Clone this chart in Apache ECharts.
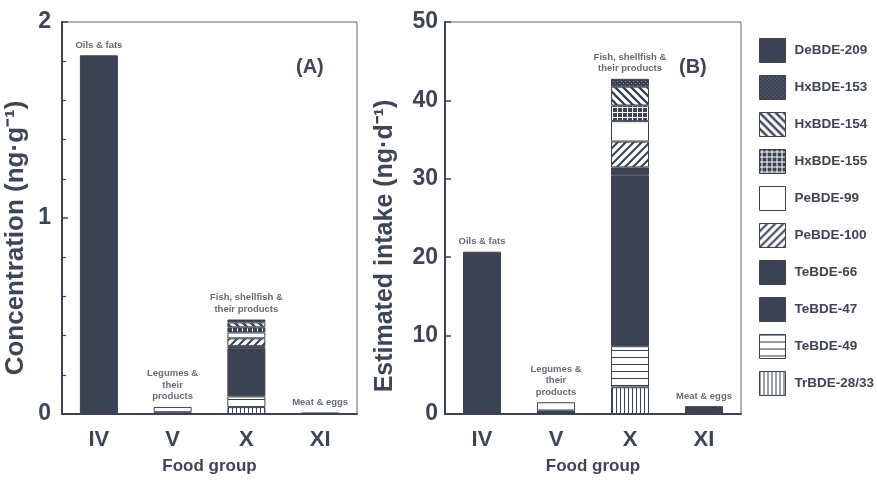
<!DOCTYPE html>
<html><head><meta charset="utf-8">
<script src="https://cdn.jsdelivr.net/npm/echarts@6/dist/echarts.min.js"></script>
<style>html,body{margin:0;padding:0;background:#fff}#c{width:877px;height:480px}</style>
</head><body><div id="c"></div>
<script>
// ---- data ----
const categories = ['IV', 'V', 'X', 'XI'];
const groupNames = ['Oils & fats', 'Legumes &\ntheir\nproducts', 'Fish, shellfish &\ntheir products', 'Meat & eggs'];
const congeners = ['DeBDE-209', 'HxBDE-153', 'HxBDE-154', 'HxBDE-155', 'PeBDE-99', 'PeBDE-100', 'TeBDE-66', 'TeBDE-47', 'TeBDE-49', 'TrBDE-28/33'];
// Panel A: concentration (ng/g), values in congener order
const concIV = [1.83, 0, 0, 0, 0, 0, 0, 0, 0, 0];
const concV  = [0, 0, 0, 0, 0.027, 0, 0, 0.009, 0, 0];
const concX  = [0, 0.015, 0.025, 0.026, 0.03, 0.04, 0.01, 0.246, 0.055, 0.035];
const concXI = [0, 0, 0, 0, 0, 0, 0, 0.008, 0, 0];
// Panel B: estimated intake (ng/d), values in congener order
const intakeIV = [20.7, 0, 0, 0, 0, 0, 0, 0, 0, 0];
const intakeV  = [0, 0, 0, 0, 1.05, 0, 0, 0.45, 0, 0];
const intakeX  = [0, 1.0, 2.4, 2.0, 2.6, 3.3, 1.0, 21.8, 5.25, 3.4];
const intakeXI = [0, 0, 0, 0, 0, 0, 0, 1.0, 0, 0];
const yTicksA = [0, 1, 2];
const yTicksB = [0, 10, 20, 30, 40, 50];

// ---- styles ----
const DARK = '#3b4251';
const TXT = '#3e4554';
const FONT = '"Liberation Sans", Arial, sans-serif';

function mk(w, h, draw) {
  const c = document.createElement('canvas'); c.width = w; c.height = h;
  const g = c.getContext('2d'); draw(g, w, h);
  return { image: c, repeat: 'repeat' };
}
const fills = {
  'DeBDE-209': DARK,
  'HxBDE-153': mk(4, 4, (g) => { g.fillStyle = DARK; g.fillRect(0, 0, 4, 4); g.fillStyle = '#7d8494'; g.fillRect(1, 1, 1, 1); g.fillRect(3, 3, 1, 1); }),
  'HxBDE-154': mk(8, 8, (g) => { g.fillStyle = '#fff'; g.fillRect(0, 0, 8, 8); g.strokeStyle = DARK; g.lineWidth = 2.4;
      for (let k = -1; k <= 1; k++) { g.beginPath(); g.moveTo(-2, -2 + 8 * k); g.lineTo(10, 10 + 8 * k); g.stroke(); } }),
  'HxBDE-155': mk(5, 5, (g) => { g.fillStyle = DARK; g.fillRect(0, 0, 5, 5); g.fillStyle = '#fff'; g.fillRect(2, 0, 1, 5); g.fillRect(0, 2, 5, 1); }),
  'PeBDE-99': '#ffffff',
  'PeBDE-100': mk(8, 8, (g) => { g.fillStyle = '#fff'; g.fillRect(0, 0, 8, 8); g.strokeStyle = DARK; g.lineWidth = 2;
      for (let k = 0; k <= 2; k++) { g.beginPath(); g.moveTo(-2, 2 + 8 * k); g.lineTo(10, -10 + 8 * k); g.stroke(); } }),
  'TeBDE-66': DARK,
  'TeBDE-47': DARK,
  'TeBDE-49': mk(4, 7, (g) => { g.fillStyle = '#fff'; g.fillRect(0, 0, 4, 7); g.fillStyle = DARK; g.fillRect(0, 0, 4, 1); }),
  'TrBDE-28/33': mk(4, 4, (g) => { g.fillStyle = '#fff'; g.fillRect(0, 0, 4, 4); g.fillStyle = DARK; g.fillRect(0, 0, 1, 4); })
};

const panelA = [concIV, concV, concX, concXI];
const panelB = [intakeIV, intakeV, intakeX, intakeXI];

function buildSeries(panel, idx, stack) {
  const out = [];
  for (let k = congeners.length - 1; k >= 0; k--) {
    out.push({
      type: 'bar', name: congeners[k], stack: stack, xAxisIndex: idx, yAxisIndex: idx,
      barWidth: 38, silent: true,
      itemStyle: { color: fills[congeners[k]], borderColor: DARK, borderWidth: 1 },
      data: panel.map(arr => arr[k] === 0 ? '-' : arr[k])
    });
  }
  const totals = panel.map(arr => arr.reduce((a, b) => a + b, 0));
  out.push({
    type: 'scatter', xAxisIndex: idx, yAxisIndex: idx, symbolSize: 1, silent: true,
    itemStyle: { color: 'rgba(0,0,0,0)' },
    label: { show: true, position: 'top', distance: 4, color: TXT, fontFamily: FONT, fontWeight: 'bold', fontSize: 9.5, lineHeight: 11.5,
      formatter: p => groupNames[p.dataIndex] },
    data: totals.map((t, i) => [i, t])
  });
  return out;
}

function xAxis(idx) {
  return {
    type: 'category', gridIndex: idx, data: categories,
    axisLine: { lineStyle: { color: DARK, width: 2 } }, axisTick: { show: false },
    axisLabel: { color: TXT, fontFamily: FONT, fontWeight: 'bold', fontSize: 22, margin: 15 },
    name: 'Food group', nameLocation: 'middle', nameGap: 44,
    nameTextStyle: { color: TXT, fontFamily: FONT, fontWeight: 'bold', fontSize: 17 }
  };
}

const chart = echarts.init(document.getElementById('c'), null, { renderer: 'canvas' });
chart.setOption({
  animation: false,
  backgroundColor: '#fff',
  grid: [
    { left: 62, top: 22, width: 295, height: 393, show: true, borderColor: '#666', borderWidth: 1 },
    { left: 445, top: 22, width: 296, height: 393, show: true, borderColor: '#666', borderWidth: 1 }
  ],
  xAxis: [xAxis(0), xAxis(1)],
  yAxis: [
    { type: 'value', gridIndex: 0, min: yTicksA[0], max: yTicksA[yTicksA.length - 1], interval: 1,
      axisLine: { show: true, lineStyle: { color: DARK, width: 2 } },
      axisTick: { show: true, inside: true, length: 6, lineStyle: { color: DARK, width: 1.5 } },
      minorTick: { show: true, splitNumber: 5, length: 4, lineStyle: { color: DARK, width: 1.2 } },
      splitLine: { show: false },
      axisLabel: { color: TXT, fontFamily: FONT, fontWeight: 'bold', fontSize: 23, margin: 11 },
      name: 'Concentration (ng·g⁻¹)', nameLocation: 'middle', nameGap: 33,
      nameTextStyle: { color: TXT, fontFamily: FONT, fontWeight: 'bold', fontSize: 26, padding: [0, 40, 0, 0] } },
    { type: 'value', gridIndex: 1, min: yTicksB[0], max: yTicksB[yTicksB.length - 1], interval: 10,
      axisLine: { show: true, lineStyle: { color: DARK, width: 2 } },
      axisTick: { show: true, inside: true, length: 6, lineStyle: { color: DARK, width: 1.5 } },
      splitLine: { show: false },
      axisLabel: { color: TXT, fontFamily: FONT, fontWeight: 'bold', fontSize: 23, margin: 7 },
      name: 'Estimated intake (ng·d⁻¹)', nameLocation: 'middle', nameGap: 47,
      nameTextStyle: { color: TXT, fontFamily: FONT, fontWeight: 'bold', fontSize: 25, padding: [0, 56, 0, 0] } }
  ],
  legend: {
    orient: 'vertical', left: 754, top: 33, itemWidth: 26, itemHeight: 24, itemGap: 12,
    icon: 'rect', data: congeners,
    itemStyle: { borderColor: DARK, borderWidth: 1 },
    textStyle: { color: TXT, fontFamily: FONT, fontWeight: 'bold', fontSize: 13.5, padding: [0, 0, 0, 4] }
  },
  graphic: [
    { type: 'text', left: 296, top: 57, style: { text: '(A)', fill: TXT, font: 'bold 20px ' + FONT } },
    { type: 'text', left: 679, top: 57, style: { text: '(B)', fill: TXT, font: 'bold 20px ' + FONT } }
  ],
  series: buildSeries(panelA, 0, 'A').concat(buildSeries(panelB, 1, 'B'))
});
</script></body></html>
